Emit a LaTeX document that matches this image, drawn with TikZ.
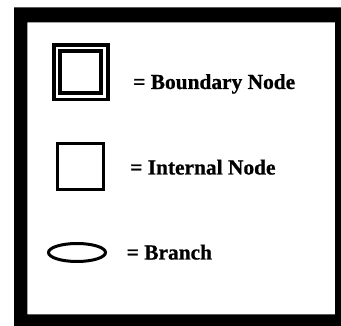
\documentclass[tikz,border=0pt]{standalone}
\usepackage{fontspec}
\setmainfont[BoldFeatures={FakeBold=0.8}]{Liberation Serif}
\begin{document}
\begin{tikzpicture}[x=1pt,y=-1pt,
  lbl/.style={anchor=base west,inner sep=0pt,font=\fontsize{21.4}{21.4}\selectfont\bfseries},
  boxline/.style={draw=black,line width=3.2pt}]
\useasboundingbox (0,0) rectangle (341,326);
% frame
\fill[black,even odd rule] (14,7.3) rectangle (341,326) (27.3,22.3) rectangle (335,314.3);
% boundary node
\draw[boxline] (54,45) rectangle (108,99.3);
\draw[line width=3.8pt] (60.3,51.2) rectangle (101.3,92.8);
\node[lbl] (tb) at (133,89) {= Boundary Node};
% internal node
\draw[line width=3pt] (57.5,143.5) rectangle (103.2,190);
\node[lbl] (ti) at (130,174.5) {= Internal Node};
% branch
\draw[line width=3pt] (77,252.5) ellipse [x radius=28.5, y radius=9];
\node[lbl] (tr) at (126.5,259.5) {= Branch};
\end{tikzpicture}
\end{document}
